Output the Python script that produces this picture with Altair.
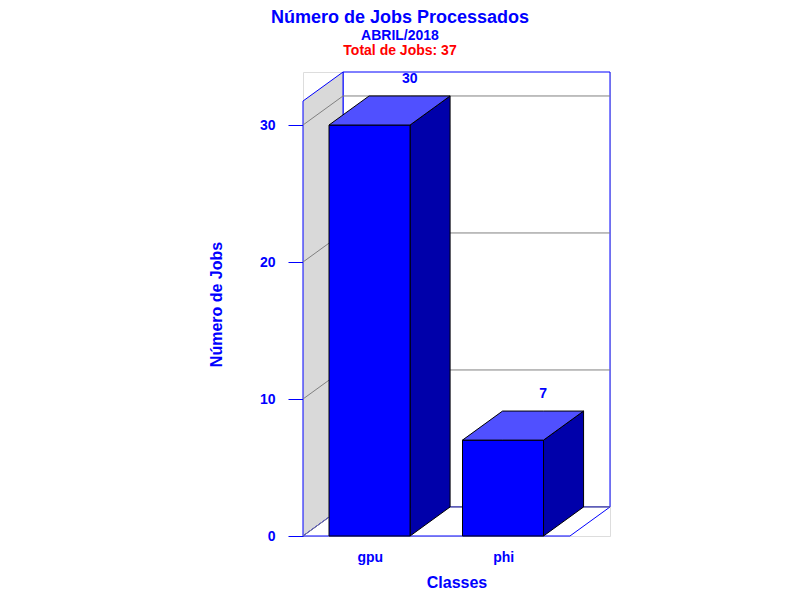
import altair as alt
import pandas as pd

# ---------------- data ----------------
categories = ["gpu", "phi"]
jobs = [30, 7]
y_ticks = [0, 10, 20, 30]

title_text = "Número de Jobs Processados"
subtitle_text = "ABRIL/2018"
total_text = f"Total de Jobs: {sum(jobs)}"
x_title = "Classes"
y_title = "Número de Jobs"

# ---------------- 3D geometry (data units) ----------------
N = len(categories)
DX = 0.3       # depth along x (in category widths)
DV = 2.12      # depth along y (in job units)
YTOP = 31.75   # front height of the frame
BAR_L, BAR_R = 0.195, 0.802

BLUE = "#0000ff"
FRONT = "#0000ff"
TOPC = "#5050ff"
SIDE = "#0000aa"
WALL = "#d9d9d9"
GRID = "#808080"
FONT = "Liberation Sans"

W, H = 307, 464

xs = alt.Scale(domain=[0, N + DX], nice=False, zero=False)
ys = alt.Scale(domain=[0, YTOP + DV], nice=False, zero=False)

label_expr = "''"
for i in reversed(range(N)):
    label_expr = f"datum.value < {i + 1} ? '{categories[i]}' : {label_expr}"

x_axis = alt.Axis(values=[i + 0.5 for i in range(N)], labelExpr=label_expr,
                  ticks=False, domain=False, grid=False,
                  labelFont=FONT, labelFontWeight="bold", labelFontSize=14,
                  labelColor=BLUE, labelPadding=14,
                  title=x_title, titleFont=FONT, titleFontWeight="bold",
                  titleFontSize=16, titleColor=BLUE, titlePadding=10)
y_axis = alt.Axis(values=y_ticks, domain=False, grid=False, tickSize=15,
                  tickColor=BLUE, tickWidth=1, labelFont=FONT, labelFontWeight="bold",
                  labelFontSize=14, labelColor=BLUE, labelPadding=13,
                  title=y_title, titleFont=FONT, titleFontWeight="bold",
                  titleFontSize=16, titleColor=BLUE, titlePadding=35)


def X(f="x"):
    return alt.X(f"{f}:Q", scale=xs, axis=x_axis)


def Y(f="y"):
    return alt.Y(f"{f}:Q", scale=ys, axis=y_axis)


# left wall
wall_df = pd.DataFrame({"x": [0, DX], "y": [0, DV], "y2": [YTOP, YTOP + DV]})
wall = alt.Chart(wall_df).mark_area(fill=WALL, stroke=BLUE, strokeWidth=1).encode(
    x=X(), y=Y(), y2="y2:Q")

# back wall
back_df = pd.DataFrame({"x": [DX], "x2": [N + DX], "y": [DV], "y2": [YTOP + DV]})
back = alt.Chart(back_df).mark_rect(fill="white", stroke=BLUE, strokeWidth=1).encode(
    x=X(), x2="x2:Q", y=Y(), y2="y2:Q")

# floor
floor_df = pd.DataFrame({"x": [0, DX, N, N + DX],
                         "y": [0, 0, 0, DV],
                         "y2": [0, DV, DV, DV]})
floor = alt.Chart(floor_df).mark_area(fill="white", stroke=BLUE, strokeWidth=1).encode(
    x=X(), y=Y(), y2="y2:Q")

# grid lines
grid_rows = []
for t in y_ticks:
    grid_rows += [{"g": t, "x": 0, "y": t},
                  {"g": t, "x": DX, "y": t + DV},
                  {"g": t, "x": N + DX, "y": t + DV}]
grid = alt.Chart(pd.DataFrame(grid_rows)).mark_line(color=GRID, strokeWidth=1).encode(
    x=X(), y=Y(), detail="g:N")

# bars: front, top and side faces
front_df = pd.DataFrame({"c": categories,
                         "x": [i + BAR_L for i in range(N)],
                         "x2": [i + BAR_R for i in range(N)],
                         "y": [0] * N, "y2": jobs})
front = alt.Chart(front_df).mark_rect(fill=FRONT, stroke="black", strokeWidth=1).encode(
    x=X(), x2="x2:Q", y=Y(), y2="y2:Q")

top_rows, side_rows = [], []
for i, (c, v) in enumerate(zip(categories, jobs)):
    x0, x1 = i + BAR_L, i + BAR_R
    top_rows += [{"c": c, "x": x0, "y": v, "y2": v},
                 {"c": c, "x": x0 + DX, "y": v, "y2": v + DV},
                 {"c": c, "x": x1, "y": v, "y2": v + DV},
                 {"c": c, "x": x1 + DX, "y": v + DV, "y2": v + DV}]
    side_rows += [{"c": c, "x": x1, "y": 0, "y2": v},
                  {"c": c, "x": x1 + DX, "y": DV, "y2": v + DV}]

top = alt.Chart(pd.DataFrame(top_rows)).mark_area(fill=TOPC, stroke="black", strokeWidth=1).encode(
    x=X(), y=Y(), y2="y2:Q", detail="c:N")
side = alt.Chart(pd.DataFrame(side_rows)).mark_area(fill=SIDE, stroke="black", strokeWidth=1).encode(
    x=X(), y=Y(), y2="y2:Q", detail="c:N")

# value labels
lab_df = pd.DataFrame({"x": [i + 0.5 + DX for i in range(N)],
                       "y": [v + DV for v in jobs],
                       "t": [str(v) for v in jobs]})
labels = alt.Chart(lab_df).mark_text(font=FONT, fontWeight="bold", fontSize=14,
                                     color=BLUE, baseline="alphabetic", dy=-13).encode(
    x=X(), y=Y(), text="t:N")

# title block (three centred lines above the plot)
head_specs = [(title_text, 18, BLUE, -49),
              (subtitle_text, 14, BLUE, -32),
              (total_text, 14, "#ff0000", -17)]
heads = []
for txt, size, col, ypix in head_specs:
    heads.append(
        alt.Chart(pd.DataFrame({"t": [txt]})).mark_text(
            font=FONT, fontWeight="bold", fontSize=size, color=col,
            baseline="alphabetic", align="center").encode(
            x=alt.value(97), y=alt.value(ypix), text="t:N"))

chart = alt.layer(back, wall, floor, grid, side, front, top, labels, *heads).properties(
    width=W, height=H,
    autosize=alt.AutoSizeParams(type="none"),
    padding={"left": 295, "top": 64, "right": 182, "bottom": 56},
).configure_view(stroke=None).configure(background="white")

chart.save("out.html", embed_options={"renderer": "svg", "actions": False})
